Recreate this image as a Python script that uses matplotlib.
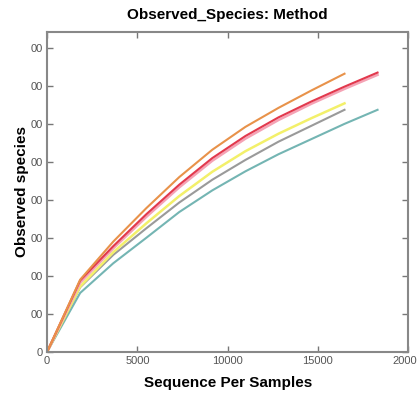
import matplotlib
matplotlib.use("Agg")
import matplotlib.pyplot as plt

plt.rcParams['font.family'] = ['Liberation Sans', 'DejaVu Sans']

depth_long = [0, 1830, 3660, 5490, 7320, 9150, 10980, 12810, 14640, 16470, 18300]
depth_short = depth_long[:10]

orange = [0, 190, 290, 378, 460, 532, 592, 642, 688, 732]
red = [0, 188, 278, 362, 440, 510, 568, 617, 659, 698, 735]
pink = [0, 182, 272, 355, 433, 503, 561, 610, 653, 692, 729]
yellow = [0, 172, 262, 338, 410, 474, 528, 574, 615, 654]
gray = [0, 170, 255, 325, 393, 453, 505, 553, 595, 637]
teal = [0, 155, 233, 300, 368, 425, 475, 520, 560, 600, 637]

ytick_vals = [0, 100, 200, 300, 400, 500, 600, 700, 800]
ytick_labels = ['0', '00', '00', '00', '00', '00', '00', '00', '00']
xtick_vals = [0, 5000, 10000, 15000, 20000]

fig = plt.figure(figsize=(4.17, 3.94), dpi=100)
ax = fig.add_axes([0.113, 0.107, 0.866, 0.812])

ax.plot(depth_long, teal, color='#74b5b3', lw=1.5)
ax.plot(depth_short, gray, color='#9a9a9a', lw=1.5)
ax.plot(depth_short, yellow, color='#f3f06a', lw=1.8)
ax.plot(depth_long, pink, color='#f5a3b5', lw=1.8)
ax.plot(depth_long, red, color='#e2394d', lw=1.5)
ax.plot(depth_short, orange, color='#e8924a', lw=1.5)

ax.set_xlim(0, 20000)
ax.set_ylim(0, 842)
ax.set_xticks(xtick_vals)
ax.set_xticklabels([str(v) for v in xtick_vals])
ax.set_yticks(ytick_vals)
ax.set_yticklabels(ytick_labels)

ax.tick_params(direction='in', top=True, right=True, length=4, width=1,
               color='#777777', labelcolor='#555555', labelsize=8, pad=3)
for s in ax.spines.values():
    s.set_color('#888888')
    s.set_linewidth(1.5)

ax.set_xlabel('Sequence Per Samples', fontsize=11, fontweight='bold', labelpad=7)
ax.set_ylabel('Observed species', fontsize=11, fontweight='bold', labelpad=1)
ax.set_title('Observed_Species: Method', fontsize=11, fontweight='bold', pad=9)

fig.savefig('out.png', dpi=100)
